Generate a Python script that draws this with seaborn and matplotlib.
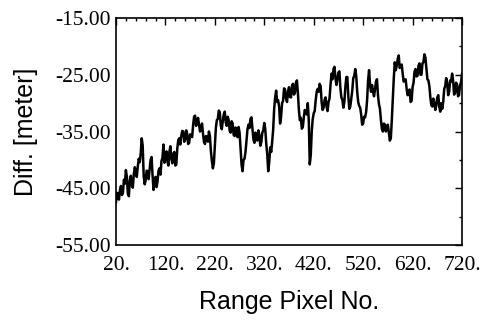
import numpy as np
import pandas as pd
import matplotlib
matplotlib.use("Agg")
import matplotlib.pyplot as plt
from matplotlib.ticker import FixedLocator, MultipleLocator, FuncFormatter
import seaborn as sns

# Height difference along the range direction [m]
# samples at range pixels 20, 24, 28, ..., 720
diff_even = [
    -47.5, -46.0, -45.3, -46.2, -43.5, -41.8, -46.0, -43.6, -44.5, -42.6,
    -42.0, -41.2, -40.4, -36.2, -42.8, -43.6, -42.0, -41.6, -39.5, -45.3,
    -43.0, -43.8, -41.5, -40.2, -37.3, -39.8, -40.2, -38.6, -39.8, -38.9,
    -41.0, -38.0, -36.2, -35.8, -35.0, -36.4, -35.4, -37.0, -35.8, -33.9,
    -32.2, -33.5, -33.8, -34.6, -35.4, -37.2, -36.0, -35.0, -38.5, -41.5,
    -37.5, -33.0, -31.3, -34.0, -33.2, -31.5, -34.0, -33.0, -35.2, -33.6,
    -35.8, -35.0, -34.2, -38.0, -42.0, -39.8, -36.5, -33.8, -32.8, -34.5,
    -37.0, -36.0, -34.8, -37.5, -35.2, -33.5, -37.2, -42.0, -37.8, -36.8,
    -31.0, -27.8, -29.5, -33.6, -30.0, -27.4, -29.2, -28.0, -28.9, -27.0,
    -28.5, -26.4, -28.2, -33.0, -34.5, -32.5, -31.8, -30.0, -40.8, -35.0,
    -31.8, -29.5, -27.5, -26.6, -29.8, -30.8, -29.0, -31.4, -29.2, -24.8,
    -24.0, -25.6, -25.8, -24.4, -29.0, -30.8, -27.2, -25.4, -31.0, -29.2,
    -25.6, -24.0, -28.0, -30.5, -32.0, -33.6, -32.5, -29.5, -24.2, -28.0,
    -28.0, -27.6, -25.8, -30.2, -33.0, -35.0, -33.8, -34.0, -35.2, -36.2,
    -29.2, -22.8, -23.4, -21.6, -23.4, -24.8, -26.0, -27.5, -28.0, -29.8,
    -27.2, -24.4, -25.3, -23.4, -25.0, -23.0, -21.4, -24.0, -26.0, -29.0,
    -30.6, -30.0, -30.4, -28.6, -31.5, -31.0, -27.5, -25.6, -28.6, -26.0,
    -24.8, -28.5, -26.4, -28.8, -26.8, -24.8,
]
# samples at range pixels 22, 26, 30, ..., 718
diff_odd = [
    -45.8, -47.0, -44.6, -45.8, -44.2, -43.0, -46.4, -42.8, -44.9, -41.3,
    -43.0, -39.8, -38.9, -37.5, -44.3, -41.9, -43.4, -40.0, -42.8, -43.6,
    -44.8, -41.9, -42.6, -39.6, -40.5, -38.5, -41.0, -37.6, -40.6, -38.6,
    -40.8, -36.5, -37.3, -34.9, -36.8, -34.8, -37.2, -35.5, -36.0, -32.4,
    -34.0, -32.6, -35.0, -33.6, -36.8, -35.8, -36.8, -35.8, -40.2, -40.6,
    -34.4, -32.8, -31.6, -34.6, -32.0, -33.4, -32.4, -34.9, -33.2, -35.6,
    -34.3, -36.0, -35.2, -40.8, -40.0, -38.6, -34.6, -34.4, -32.5, -36.4,
    -35.2, -36.6, -35.6, -36.9, -34.8, -34.6, -39.0, -40.4, -38.6, -34.6,
    -29.0, -29.8, -30.6, -32.4, -29.6, -27.6, -29.8, -27.2, -29.0, -26.6,
    -28.2, -26.0, -31.2, -32.6, -34.2, -31.2, -32.0, -33.0, -39.2, -32.8,
    -31.4, -28.0, -28.0, -27.0, -31.2, -29.4, -30.6, -29.8, -26.8, -25.8,
    -23.6, -26.8, -24.6, -27.4, -29.4, -29.8, -25.4, -28.8, -30.6, -27.8,
    -25.2, -25.2, -29.8, -30.8, -33.8, -32.4, -31.6, -26.0, -26.8, -26.8,
    -28.8, -26.2, -28.6, -31.0, -34.6, -33.6, -35.0, -33.8, -36.6, -33.0,
    -25.6, -24.2, -22.2, -23.8, -23.2, -26.2, -25.8, -28.6, -27.6, -29.6,
    -26.4, -24.0, -25.2, -23.0, -25.0, -22.8, -22.0, -25.8, -27.0, -30.4,
    -29.2, -31.2, -29.0, -30.6, -30.0, -29.8, -27.0, -26.4, -28.0, -26.2,
    -26.0, -28.2, -26.8, -28.6, -26.4,
]
pixel_even = np.arange(20, 20 + 4 * len(diff_even), 4)
pixel_odd = np.arange(22, 22 + 4 * len(diff_odd), 4)

x_ticks = [20, 120, 220, 320, 420, 520, 620, 720]
y_ticks = [-55, -45, -35, -25, -15]

df = pd.DataFrame({
    "pixel": np.concatenate([pixel_even, pixel_odd]),
    "diff": diff_even + diff_odd,
}).sort_values("pixel")

sns.set_theme(style="white")
plt.rcParams["font.family"] = ["Liberation Sans", "DejaVu Sans"]

fig = plt.figure(figsize=(4.95, 3.22), dpi=100)
ax = fig.add_axes([116 / 495, 1 - 245 / 322, 346 / 495, 227 / 322])

sns.lineplot(data=df, x="pixel", y="diff", ax=ax, color="black",
             linewidth=1.8, errorbar=None)

ax.set_xlim(20, 720)
ax.set_ylim(-55, -15)
ax.xaxis.set_major_locator(FixedLocator(x_ticks))
ax.xaxis.set_minor_locator(MultipleLocator(20))
ax.yaxis.set_major_locator(FixedLocator(y_ticks))
ax.yaxis.set_minor_locator(MultipleLocator(5))
ax.xaxis.set_major_formatter(FuncFormatter(lambda v, p: f"{v:.0f}."))
ax.yaxis.set_major_formatter(FuncFormatter(lambda v, p: f"{v:.2f}"))

ax.tick_params(which="both", direction="in", top=True, right=True,
               colors="black", width=1.0)
ax.tick_params(which="major", length=5)
ax.tick_params(which="minor", length=2.5)
ax.tick_params(axis="x", which="major", pad=8)
ax.tick_params(axis="y", which="major", pad=4)
for lab in ax.get_xticklabels() + ax.get_yticklabels():
    lab.set_fontfamily("Liberation Serif")
    lab.set_fontsize(15.5)

for sp in ax.spines.values():
    sp.set_color("black")
    sp.set_linewidth(1.2)

ax.set_xlabel("Range Pixel No.", fontsize=18, color="black")
ax.set_ylabel("Diff. [meter]", fontsize=18, color="black")
ax.xaxis.set_label_coords(0.5, -0.2)
ax.yaxis.set_label_coords(-0.225, 0.5)

fig.savefig("out.png", dpi=100, facecolor="white")
